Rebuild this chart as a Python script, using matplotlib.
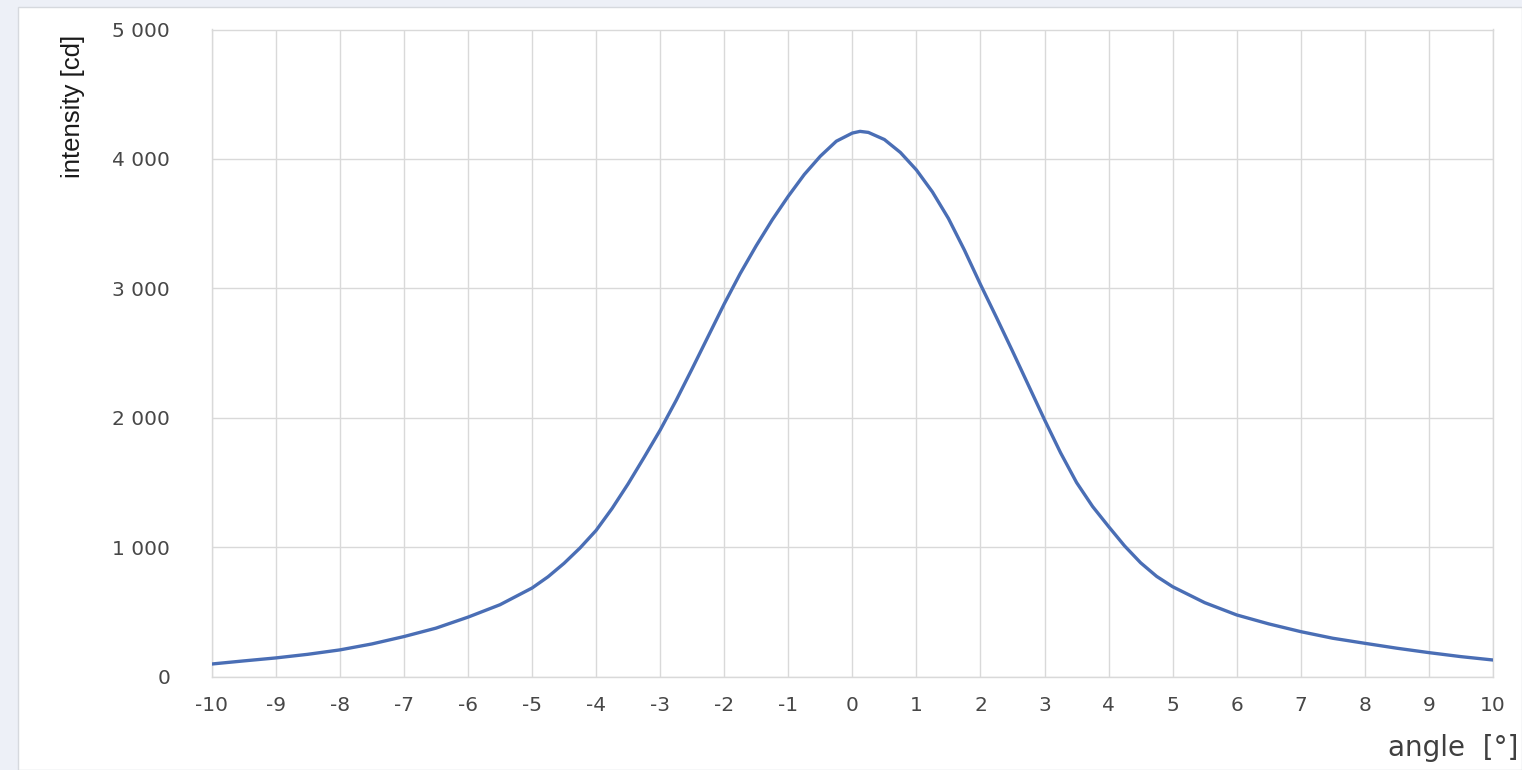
import numpy as np
import matplotlib.pyplot as plt
from matplotlib.patches import Rectangle

plt.rcParams['axes.unicode_minus'] = False

# ---------------- data ----------------
angle = [-10, -9.5, -9, -8.5, -8, -7.5, -7, -6.5, -6, -5.5, -5, -4.75, -4.5, -4.25,
         -4, -3.75, -3.5, -3.25, -3, -2.75, -2.5, -2.25, -2, -1.75, -1.5, -1.25,
         -1, -0.75, -0.5, -0.25, 0, 0.12, 0.25, 0.5, 0.75, 1, 1.25, 1.5, 1.75,
         2, 2.25, 2.5, 2.75, 3, 3.25, 3.5, 3.75, 4, 4.25, 4.5, 4.75, 5, 5.5,
         6, 6.5, 7, 7.5, 8, 8.5, 9, 9.5, 10]
intensity = [98, 122, 145, 173, 207, 253, 310, 375, 460, 556, 685, 772, 876, 995,
             1130, 1300, 1490, 1695, 1905, 2135, 2380, 2630, 2880, 3115, 3330, 3530,
             3712, 3880, 4021, 4137, 4200, 4213, 4205, 4150, 4050, 3915, 3745, 3540, 3295,
             3030, 2775, 2515, 2250, 1985, 1730, 1500, 1315, 1160, 1010, 880, 775, 695, 572,
             477, 408, 348, 297, 258, 220, 186, 155, 129]

x_ticks = list(range(-10, 11))
y_ticks = [0, 1000, 2000, 3000, 4000, 5000]
y_ticklabels = ['0', '1 000', '2 000', '3 000', '4 000', '5 000']

# ---------------- figure ----------------
fig = plt.figure(figsize=(15.22, 7.70), dpi=100)
fig.patch.set_facecolor('#EDF0F7')

# white chart panel (behind the axes)
fig.patches.append(Rectangle((18 / 1522, 0), 1 - 18 / 1522, 1 - 7 / 770,
                             transform=fig.transFigure, facecolor='white',
                             edgecolor='#D6D9DE', linewidth=1, zorder=-5))

ax = fig.add_axes([211.7 / 1522, 1 - 676.7 / 770, (1493 - 211.7) / 1522, (676.7 - 29.5) / 770])
ax.set_zorder(2)
ax.set_facecolor('white')

ax.plot(angle, intensity, color='#4A6EB5', linewidth=2.4,
        solid_joinstyle='round', solid_capstyle='round', zorder=3)

ax.set_xlim(-10, 10)
ax.set_ylim(0, 5000)
ax.set_xticks(x_ticks)
ax.set_yticks(y_ticks)
ax.set_yticklabels(y_ticklabels)

ax.grid(True, color='#D9D9D9', linewidth=1)
ax.set_axisbelow(True)
for s in ax.spines.values():
    s.set_color('#D9D9D9')
    s.set_linewidth(1)

ax.tick_params(axis='both', length=0, labelsize=14.5, labelcolor='#474747')
ax.tick_params(axis='y', pad=30)
ax.tick_params(axis='x', pad=14)

# axis titles
fig.text(73 / 1522, 1 - 106 / 770, 'intensity [cd]', rotation=90, ha='center', va='center',
         fontsize=18.5, color='#1A1A1A', family=['Liberation Sans', 'DejaVu Sans'])
fig.text(1388 / 1522, 1 - 748 / 770, 'angle  [°]', ha='left', va='center',
         fontsize=20, color='#404040')

plt.savefig('out.png', dpi=100, facecolor=fig.get_facecolor())
